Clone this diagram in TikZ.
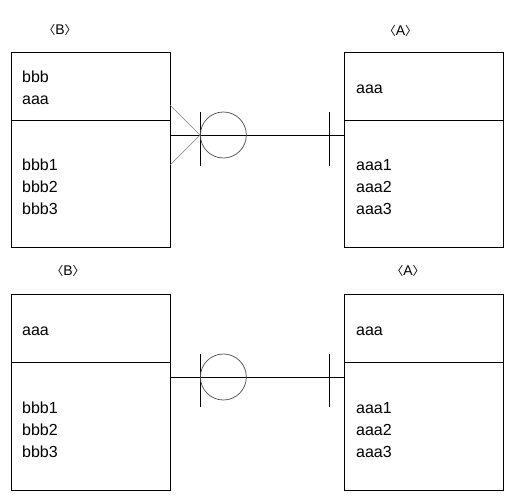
\documentclass[tikz,border=0pt]{standalone}
\usepackage{fontspec}
\setmainfont{Liberation Sans}
\newfontfamily\krfont{Noto Sans CJK KR}
\usetikzlibrary{calc}
\newcommand\entname[1]{{\krfont\fontsize{12}{12}\selectfont 〈}#1{\krfont\fontsize{12}{12}\selectfont 〉}}
\tikzset{
  ent/.style={draw, rectangle, minimum width=159pt, outer sep=0pt, inner sep=0pt, anchor=north west},
  attr/.style={anchor=base west, inner sep=0pt, font=\fontsize{16}{22}\selectfont},
  ename/.style={font=\fontsize{14}{14}\selectfont, inner sep=0pt},
  rel/.style={line width=0.7pt},
  foot/.style={line width=0.7pt, gray},
  opt/.style={circle, draw, gray!60!black, line width=0.7pt, minimum size=46pt, inner sep=0pt, anchor=west},
}
\begin{document}
\begin{tikzpicture}[x=1pt, y=-1pt]
\useasboundingbox (0,0) rectangle (514,500);
% upper pair: B (many) -- A
\node[ename] (bname1) at (60,30) {\entname{B}};
\node[ent, minimum height=68pt] (bhead1) at (11,52) {};
\node[ent, minimum height=127pt] (bbody1) at (bhead1.south west) {};
\node[attr] (b1k1) at (22,82.7) {bbb};
\node[attr] (b1k2) at (22,104.7) {aaa};
\foreach \t [count=\i] in {bbb1,bbb2,bbb3}
  \node[attr] (b1a\i) at (22,148.7+22*\i) {\t};

\node[ename] (aname1) at (400.5,31) {\entname{A}};
\node[ent, minimum height=68pt] (ahead1) at (344,52) {};
\node[ent, minimum height=127pt] (abody1) at (ahead1.south west) {};
\node[attr] (a1k1) at (356,94) {aaa};
\foreach \t [count=\i] in {aaa1,aaa2,aaa3}
  \node[attr] (a1a\i) at (356,148.7+22*\i) {\t};

\coordinate (bl1) at ($(bbody1.north east)+(0,15)$);
\coordinate (al1) at (abody1.north west |- bl1);
\draw[rel] (bl1) -- (al1);
\draw[foot] ($(bl1)+(0,-30)$) -- ($(bl1)+(30,0)$) -- ($(bl1)+(0,30)$);
\draw[rel] ($(bl1)+(30,-22.5)$) -- ($(bl1)+(30,30.5)$);
\node[opt] (opt1) at ($(bl1)+(30,0)$) {};
\draw[rel] ($(al1)+(-14.5,-22.5)$) -- ($(al1)+(-14.5,30.5)$);

% lower pair: B (one) -- A
\node[ename] (bname2) at (68,270.5) {\entname{B}};
\node[ent, minimum height=68pt] (bhead2) at (11,294) {};
\node[ent, minimum height=128pt] (bbody2) at (bhead2.south west) {};
\node[attr] (b2k1) at (22,335) {aaa};
\foreach \t [count=\i] in {bbb1,bbb2,bbb3}
  \node[attr] (b2a\i) at (22,391.3+22*\i) {\t};

\node[ename] (aname2) at (408,270.5) {\entname{A}};
\node[ent, minimum height=68pt] (ahead2) at (344,294) {};
\node[ent, minimum height=128pt] (abody2) at (ahead2.south west) {};
\node[attr] (a2k1) at (356,335) {aaa};
\foreach \t [count=\i] in {aaa1,aaa2,aaa3}
  \node[attr] (a2a\i) at (356,391.3+22*\i) {\t};

\coordinate (bl2) at ($(bbody2.north east)+(0,15)$);
\coordinate (al2) at (abody2.north west |- bl2);
\draw[rel] (bl2) -- (al2);
\draw[rel] ($(bl2)+(30,-23)$) -- ($(bl2)+(30,30)$);
\node[opt] (opt2) at ($(bl2)+(30,0)$) {};
\draw[rel] ($(al2)+(-14.5,-23)$) -- ($(al2)+(-14.5,30)$);
\end{tikzpicture}
\end{document}
